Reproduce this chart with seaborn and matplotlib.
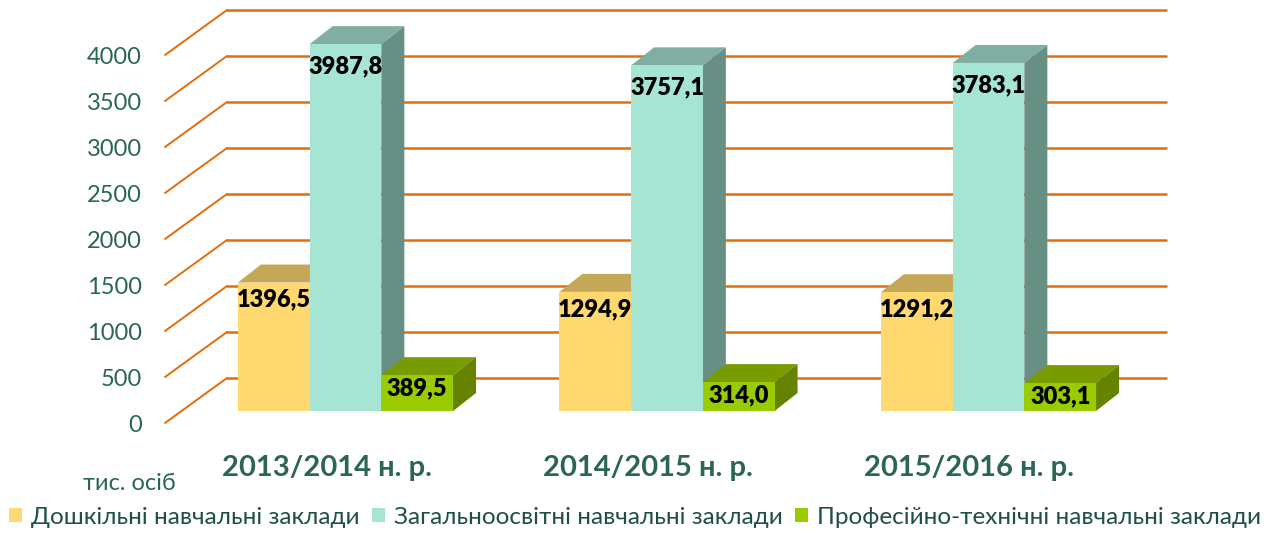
import pandas as pd
import matplotlib.pyplot as plt
from matplotlib.patches import Polygon
import seaborn as sns

# Values
years = ['2013/2014 н. р.', '2014/2015 н. р.', '2015/2016 н. р.']
preschool = [1396.5, 1294.9, 1291.2]
general = [3987.8, 3757.1, 3783.1]
vocational = [389.5, 314.0, 303.1]
kinds = ['Дошкільні навчальні заклади', 'Загальноосвітні навчальні заклади', 'Професійно-технічні навчальні заклади']
y_ticks = [0, 500, 1000, 1500, 2000, 2500, 3000, 3500, 4000]

front_colors = ['#FFD970', '#A6E4D4', '#99CC00']
top_colors = ['#C4A858', '#80AEA2', '#789B00']
side_colors = ['#C4A858', '#688F84', '#658200']
text_green = '#2A6555'
orange = '#E46C0A'

sns.set_theme(style='white')
plt.rcParams['font.family'] = ['Lato', 'Open Sans', 'DejaVu Sans']

data = pd.DataFrame({
    'year': years * 3,
    'kind': [kinds[0]] * 3 + [kinds[1]] * 3 + [kinds[2]] * 3,
    'value': preschool + general + vocational,
})

W, H = 1278, 533
fig = plt.figure(figsize=(W / 100, H / 100), dpi=100)
ax = fig.add_axes([184.75 / W, (H - 411) / H, 964.5 / W, 411 / H])

sns.barplot(data=data, x='year', y='value', hue='kind', hue_order=kinds, palette=front_colors,
            width=0.669, gap=0, saturation=1, linewidth=0, ax=ax)
ax.set_xlim(-0.5, 2.5)
ax.set_ylim(0, 411 / 0.092)
px_x = 964.5 / 3  # pixels per category
px_y = 0.092  # pixels per unit of value

# Back wall and floor lines
for v in y_ticks:
    left = -0.5 - 19.75 / px_x
    corner = -0.5 + 42.25 / px_x
    right = 2.5 + 16.75 / px_x
    ax.plot([left, corner], [v - 12 / px_y, v + 33 / px_y], color=orange, lw=1.4, clip_on=False, zorder=1)
    ax.plot([corner, right], [v + 33 / px_y, v + 33 / px_y], color=orange, lw=1.8, clip_on=False, zorder=1)
    ax.annotate(str(v), xy=(-0.5, v), xytext=(-43, -15), textcoords='offset pixels',
                ha='right', va='center', fontsize=17, color=text_green, annotation_clip=False)

# Fake 3D: top and side faces built from each bar
dx = 23 / px_x
dy = 18 / px_y
label_pad = [17, 22, 13]
for i, bars in enumerate(ax.containers):
    for bar in bars:
        x0 = bar.get_x()
        x1 = x0 + bar.get_width()
        h = bar.get_height()
        ax.add_patch(Polygon([(x0, h), (x1, h), (x1 + dx, h + dy), (x0 + dx, h + dy)],
                             facecolor=top_colors[i], edgecolor='none', zorder=2 + i, clip_on=False))
        ax.add_patch(Polygon([(x1, 0), (x1 + dx, dy), (x1 + dx, h + dy), (x1, h)],
                             facecolor=side_colors[i], edgecolor='none', zorder=2 + i, clip_on=False))
        bar.set_zorder(6)
        ax.annotate(f'{h:.1f}'.replace('.', ','), xy=(x0 + bar.get_width() / 2, h),
                    xytext=(0, -label_pad[i]), textcoords='offset pixels', ha='center', va='center',
                    fontsize=17, fontweight='heavy', color='black', zorder=7, annotation_clip=False)

for i, year in enumerate(years):
    ax.annotate(year, xy=(i, 0), xytext=(-19, -57), textcoords='offset pixels', ha='center', va='center',
                fontsize=21, fontweight='bold', color=text_green, annotation_clip=False)

ax.annotate('тис. осіб', xy=(-0.5, 0), xytext=(-55, -72), textcoords='offset pixels', ha='center', va='center',
            fontsize=17, color=text_green, annotation_clip=False)

sns.move_legend(ax, 'center', bbox_to_anchor=(635 / W, (H - 517) / H), bbox_transform=fig.transFigure,
                ncol=3, title=None, frameon=False, fontsize=17.5, handlelength=0.55, handleheight=0.55,
                handletextpad=0.37, columnspacing=0.5, labelcolor='#1F4F45')

ax.set_xlabel('')
ax.set_ylabel('')
ax.set_axis_off()
ax.get_legend().set_visible(True)

fig.savefig('out.png', dpi=100, facecolor='white')
